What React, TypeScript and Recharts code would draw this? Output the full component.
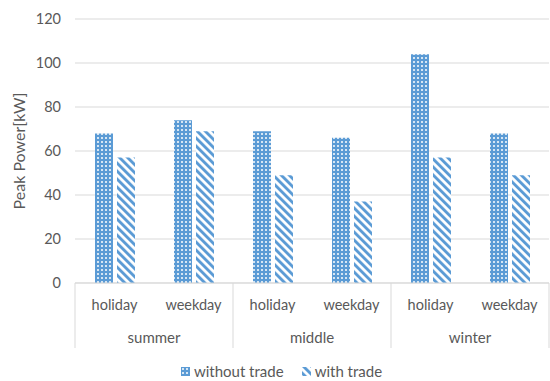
import React from "react"
import {
  BarChart,
  Bar,
  XAxis,
  YAxis,
  CartesianGrid,
  Legend,
} from "recharts"

const days = ["holiday", "weekday", "holiday", "weekday", "holiday", "weekday"]
const seasons = ["summer", "summer", "middle", "middle", "winter", "winter"]
const withoutTrade = [68, 74, 69, 66, 104, 68]
const withTrade = [57, 69, 49, 37, 57, 49]
const yTicks = [0, 20, 40, 60, 80, 100, 120]

const data = days.map((day, i) => ({
  key: `${seasons[i]}-${day}`,
  day,
  season: seasons[i],
  withoutTrade: withoutTrade[i],
  withTrade: withTrade[i],
}))

const series = [
  { key: "withoutTrade", name: "without trade", fill: "url(#gridDots)" },
  { key: "withTrade", name: "with trade", fill: "url(#wideDiag)" },
]

const BLUE = "#5b9bd5"
const TEXT = "#595959"
const LINE = "#d9d9d9"
const FONT = "Lato, 'Noto Sans', sans-serif"

const DAY_AXIS_H = 33
const SEASON_AXIS_H = 32

// second row of the category axis: one season label per pair, with separators
function SeasonTick(props: any) {
  const { x, y, payload, index } = props
  const half = payload?.offset ?? 39.5
  const last = index === data.length - 1
  return (
    <g>
      {index % 2 === 0 && (
        <>
          <line
            x1={x - half}
            x2={x - half}
            y1={y - DAY_AXIS_H}
            y2={y + SEASON_AXIS_H}
            stroke={LINE}
          />
          <text
            x={x + half}
            y={y + 22}
            dy="0.355em"
            textAnchor="middle"
            fontSize={15}
            fill={TEXT}
            fontFamily={FONT}
          >
            {payload.value}
          </text>
        </>
      )}
      {last && (
        <line
          x1={x + half}
          x2={x + half}
          y1={y - DAY_AXIS_H}
          y2={y + SEASON_AXIS_H}
          stroke={LINE}
        />
      )}
    </g>
  )
}

function LegendContent() {
  return (
    <div
      style={{
        display: "flex",
        justifyContent: "center",
        gap: 18,
        marginLeft: 14,
        fontSize: 15,
        color: TEXT,
        fontFamily: FONT,
        lineHeight: "20px",
      }}
    >
      {series.map((s) => (
        <span key={s.key} style={{ display: "inline-flex", alignItems: "center" }}>
          <svg width={9} height={9} style={{ marginRight: 4 }}>
            <rect width={9} height={9} fill={s.fill} />
          </svg>
          {s.name}
        </span>
      ))}
    </div>
  )
}

export default function App() {
  return (
    <div style={{ position: "absolute", left: 0, top: 0, fontFamily: FONT }}>
      <BarChart
        width={550}
        height={381}
        data={data}
        margin={{ top: 19, right: 1, bottom: 0, left: 0 }}
        barSize={18}
        barGap={4}
      >
        <defs>
          <pattern id="gridDots" width="4" height="4" patternUnits="userSpaceOnUse">
            <rect width="4" height="4" fill={BLUE} />
            <rect x="1" y="1" width="2" height="2" fill="#ffffff" opacity="0.75" />
          </pattern>
          <pattern
            id="wideDiag"
            width="5.66"
            height="5.66"
            patternUnits="userSpaceOnUse"
            patternTransform="rotate(-45)"
          >
            <rect width="5.66" height="5.66" fill="#ffffff" />
            <rect width="2.9" height="5.66" fill={BLUE} />
          </pattern>
        </defs>
        <CartesianGrid vertical={false} stroke={LINE} />
        <XAxis
          dataKey="day"
          xAxisId={0}
          height={DAY_AXIS_H}
          tickLine={false}
          axisLine={{ stroke: LINE }}
          tickMargin={11}
          tick={{ fontSize: 14.5, fill: TEXT, fontFamily: FONT }}
          interval={0}
        />
        <XAxis
          dataKey="season"
          xAxisId="season"
          height={SEASON_AXIS_H}
          tickLine={false}
          axisLine={false}
          tickSize={0}
          tickMargin={0}
          interval={0}
          tick={<SeasonTick />}
        />
        <YAxis
          domain={[0, 120]}
          ticks={yTicks}
          width={75}
          axisLine={false}
          tickLine={false}
          tickMargin={8}
          tick={{ fontSize: 14.5, fill: TEXT, fontFamily: FONT }}
          label={{
            value: "Peak Power[kW]",
            angle: -90,
            position: "insideLeft",
            offset: 19,
            style: { textAnchor: "middle", fontSize: 16, fill: TEXT, fontFamily: FONT },
          }}
        />
        <Legend
          verticalAlign="bottom"
          wrapperStyle={{ paddingTop: 13 }}
          content={<LegendContent />}
        />
        {series.map((s) => (
          <Bar
            key={s.key}
            dataKey={s.key}
            name={s.name}
            fill={s.fill}
            isAnimationActive={false}
          />
        ))}
      </BarChart>
    </div>
  )
}
